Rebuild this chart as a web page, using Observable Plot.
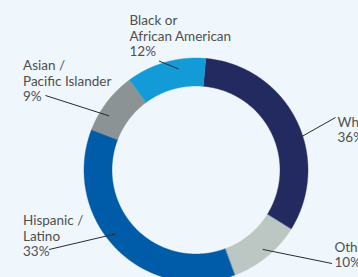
<!DOCTYPE html>
<html><head><meta charset="utf-8">
<script src="https://cdn.jsdelivr.net/npm/d3@7"></script>
<script src="https://cdn.jsdelivr.net/npm/@observablehq/plot@0.6"></script>
<style>
html,body{margin:0;padding:0;background:#eff7fd;overflow:hidden;}
#chart svg{display:block;}
</style></head><body><div id="chart"></div>
<script>
// ---- data ----
const categories = ["White", "Other", "Hispanic / Latino", "Asian / Pacific Islander", "Black or African American"];
const labelNames = ["White", "Other", "Hispanic /\nLatino", "Asian /\nPacific Islander", "Black or\nAfrican American"];
const labelPercents = [36, 10, 33, 9, 12];
// share of the ring each segment occupies as drawn in the picture (%)
const arcShares = [32.5, 10.5, 36.5, 9, 11.5];
const colors = ["#232a60", "#bcc6c2", "#005ca8", "#8b9394", "#139bd8"];

// ---- layout (pixels) ----
const W = 358, H = 277;
const cx = 196, cy = 170, Rpx = 112;
const k = Rpx / 100;               // pixels per data unit
const outerR = 100, innerR = 75, leaderR = 92;
const startAngle = 5;              // degrees clockwise from 12 o'clock
const labelPos = [[337, 125], [334, 250], [22.5, 223.5], [22.5, 68.5], [129, 23.5]]; // first baseline
const leaderFrom = [[335, 117], [331.5, 263], [48.5, 249], [45, 95], [158.5, 60.5]];
const leaderAngle = [73, 140, 232, 302, 350];
const fontSize = 13.5, lineH = 15.5;

const px2x = p => (p - cx) / k;
const px2y = p => (cy - p) / k;
const rad = d => d * Math.PI / 180;

// ring segments from data
const total = d3.sum(arcShares);
let acc = startAngle;
const ring = [];
categories.forEach((c, i) => {
  const a0 = acc, a1 = acc + arcShares[i] / total * 360;
  acc = a1;
  const n = Math.max(2, Math.ceil((a1 - a0) / 0.5));
  for (let j = 0; j <= n; j++) {
    const a = rad(a0 + (a1 - a0) * j / n);
    ring.push({cat: c, x1: outerR * Math.sin(a), y1: outerR * Math.cos(a), x2: innerR * Math.sin(a), y2: innerR * Math.cos(a)});
  }
});

const labels = categories.map((c, i) => ({
  cat: c,
  text: labelNames[i] + "\n" + labelPercents[i] + "%",
  x: px2x(labelPos[i][0]),
  y: px2y(labelPos[i][1] - 0.71 * fontSize)
}));
const leaders = categories.map((c, i) => ({
  x1: px2x(leaderFrom[i][0]), y1: px2y(leaderFrom[i][1]),
  x2: leaderR * Math.sin(rad(leaderAngle[i])), y2: leaderR * Math.cos(rad(leaderAngle[i]))
}));

const chart = Plot.plot({
  width: W, height: H,
  margin: 0,
  style: {background: "#eff7fd", fontFamily: "Lato, sans-serif"},
  x: {domain: [px2x(0), px2x(W)], axis: null},
  y: {domain: [px2y(H), px2y(0)], axis: null},
  color: {domain: categories, range: colors},
  marks: [
    Plot.area(ring, {x1: "x1", y1: "y1", x2: "x2", y2: "y2", z: "cat", fill: "cat", stroke: "cat", strokeWidth: 0.4}),
    Plot.link(leaders, {x1: "x1", y1: "y1", x2: "x2", y2: "y2", stroke: "#2b2b2b", strokeWidth: 1}),
    Plot.text(labels, {x: "x", y: "y", text: "text", textAnchor: "start", lineAnchor: "top",
      lineHeight: lineH / fontSize, fontSize: fontSize, fill: "#4f4f4f"})
  ]
});
document.getElementById("chart").appendChild(chart);
</script>
</body></html>
